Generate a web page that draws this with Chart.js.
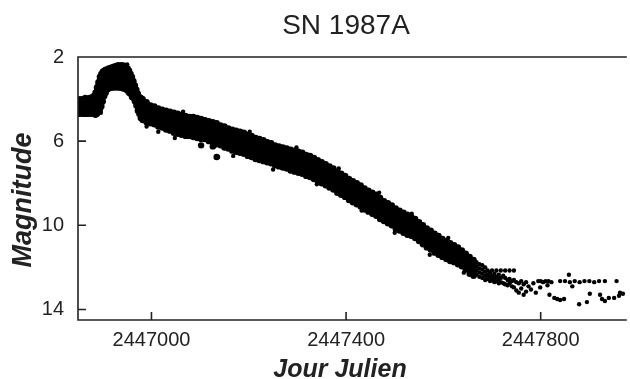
<!DOCTYPE html>
<html>
<head>
<meta charset="utf-8">
<script src="https://cdn.jsdelivr.net/npm/chart.js@4.4.1/dist/chart.umd.min.js"></script>
<style>
	body { margin: 0; background: #fff; }
	canvas { display: block; }
</style>
</head>
<body>
<canvas id="myChart" width="630" height="379"></canvas>
<script>
// Julian day = JD0 + offset
var JD0 = 2446800;

// discovery, rise to peak, fall (one column of magnitudes per day)
var earlyDays = [49, 52, 55, 58, 61, 64, 67, 70, 73, 76, 79, 82, 85, 88, 91, 94, 97, 100, 103, 106, 109, 112, 115, 118, 121, 124, 127, 130, 133, 136, 139, 142, 145, 148, 151, 154, 157, 160, 163, 166, 169, 172, 175, 178];
var earlyMags = [
	[4.0, 4.2, 4.35, 4.55, 4.7], [4.05, 4.2, 4.4, 4.6, 4.7], [4.0, 4.15, 4.3, 4.5, 4.65], [4.05, 4.25, 4.45, 4.6, 4.7],
	[4.0, 4.15, 4.35, 4.55, 4.7], [3.95, 4.1, 4.3, 4.5, 4.7], [4.05, 4.2, 4.4, 4.6, 4.7], [4.0, 4.15, 4.35, 4.55, 4.7],
	[3.95, 4.1, 4.3, 4.5, 4.65], [4.05, 4.2, 4.4, 4.6, 4.7], [3.9, 4.05, 4.25, 4.45, 4.65], [3.85, 4.0, 4.2, 4.4, 4.6, 4.7],
	[3.7, 3.85, 4.05, 4.25, 4.45, 4.65, 4.75], [3.45, 3.6, 3.8, 4.0, 4.2, 4.4, 4.6, 4.7],
	[3.2, 3.35, 3.55, 3.75, 3.95, 4.15, 4.35, 4.55], [2.95, 3.15, 3.35, 3.55, 3.75, 3.95, 4.15, 4.35, 4.5],
	[2.8, 3.0, 3.2, 3.4, 3.6, 3.8, 4.0, 4.2, 4.35], [2.7, 2.9, 3.1, 3.3, 3.5, 3.7, 3.9, 4.1],
	[2.65, 2.85, 3.05, 3.25, 3.45, 3.65, 3.85], [2.6, 2.8, 3.0, 3.2, 3.4, 3.6, 3.7],
	[2.6, 2.8, 3.0, 3.2, 3.4, 3.55], [2.55, 2.75, 2.95, 3.15, 3.35, 3.5], [2.55, 2.75, 2.95, 3.15, 3.3, 3.45],
	[2.5, 2.7, 2.9, 3.1, 3.3, 3.45], [2.5, 2.7, 2.9, 3.1, 3.25, 3.45], [2.45, 2.65, 2.85, 3.05, 3.25, 3.4],
	[2.45, 2.65, 2.85, 3.05, 3.25, 3.45], [2.4, 2.6, 2.8, 3.0, 3.2, 3.4], [2.4, 2.6, 2.8, 3.0, 3.2, 3.45],
	[2.4, 2.55, 2.75, 2.95, 3.15, 3.35, 3.45], [2.4, 2.55, 2.75, 2.95, 3.15, 3.35, 3.45], [2.4, 2.55, 2.75, 2.95, 3.15, 3.35, 3.5],
	[2.45, 2.6, 2.8, 3.0, 3.2, 3.4, 3.5], [2.5, 2.65, 2.85, 3.05, 3.25, 3.45, 3.55], [2.55, 2.7, 2.9, 3.1, 3.3, 3.5, 3.6],
	[2.65, 2.8, 3.0, 3.2, 3.4, 3.6, 3.7], [2.8, 2.95, 3.15, 3.35, 3.55, 3.75], [2.95, 3.15, 3.35, 3.55, 3.75, 3.9],
	[3.15, 3.35, 3.55, 3.75, 3.95], [3.35, 3.55, 3.75, 3.95, 4.1], [3.55, 3.75, 3.95, 4.15, 4.3],
	[3.75, 3.95, 4.15, 4.35, 4.55], [3.9, 4.1, 4.3, 4.5, 4.7], [3.95, 4.15, 4.35, 4.55, 4.75, 4.9]
];

// long decline, every 8 days
var declineDays = [182, 190, 198, 206, 214, 222, 230, 238, 246, 254, 262, 270, 278, 286, 294, 302, 310, 318, 326, 334, 342, 350, 358, 366, 374, 382, 390, 398, 406, 414, 422, 430, 438, 446, 454, 462, 470, 478, 486, 494, 502, 510, 518, 526, 534, 542, 550, 558, 566, 574, 582, 590, 598, 606, 614, 622, 630, 638, 646, 654, 662, 670, 678, 686, 694, 702, 710, 718, 726, 734, 742, 750, 758, 766, 774, 782, 790, 798, 806, 814, 822, 830, 838, 846, 854, 862];
var declineMags = [
	[4.0, 4.25, 4.5, 4.75, 5.0], [4.15, 4.4, 4.6, 4.85, 5.1], [4.3, 4.5, 4.7, 4.95, 5.15], [4.35, 4.55, 4.8, 5.0, 5.2],
	[4.45, 4.65, 4.85, 5.05, 5.3], [4.5, 4.7, 4.9, 5.1, 5.35], [4.55, 4.8, 5.0, 5.2, 5.45], [4.6, 4.85, 5.05, 5.3, 5.5],
	[4.65, 4.9, 5.1, 5.35, 5.6], [4.7, 4.95, 5.2, 5.4, 5.65], [4.75, 5.0, 5.2, 5.45, 5.7], [4.8, 5.05, 5.3, 5.5, 5.75],
	[4.85, 5.05, 5.3, 5.55, 5.75], [4.85, 5.1, 5.35, 5.6, 5.8], [4.9, 5.15, 5.4, 5.6, 5.85], [4.95, 5.2, 5.45, 5.65, 5.9, 6.2],
	[5.0, 5.25, 5.45, 5.7, 5.9], [5.05, 5.3, 5.55, 5.75, 6.0], [5.1, 5.35, 5.6, 5.8, 6.05, 6.25], [5.15, 5.4, 5.65, 5.9, 6.15, 6.75],
	[5.25, 5.5, 5.7, 5.95, 6.2], [5.3, 5.55, 5.8, 6.05, 6.3], [5.4, 5.65, 5.9, 6.1, 6.35], [5.45, 5.7, 5.95, 6.2, 6.45],
	[5.5, 5.75, 6.0, 6.25, 6.5], [5.55, 5.8, 6.05, 6.3, 6.55], [5.6, 5.85, 6.1, 6.35, 6.6], [5.7, 5.95, 6.2, 6.45, 6.7],
	[5.75, 6.0, 6.25, 6.5, 6.75], [5.85, 6.1, 6.35, 6.6, 6.85], [5.9, 6.15, 6.4, 6.65, 6.9], [5.95, 6.2, 6.45, 6.7, 6.95],
	[6.05, 6.3, 6.55, 6.75, 7.0], [6.1, 6.35, 6.6, 6.8, 7.05], [6.2, 6.45, 6.7, 6.9, 7.15], [6.25, 6.5, 6.75, 6.95, 7.2],
	[6.3, 6.55, 6.8, 7.0, 7.25], [6.35, 6.6, 6.85, 7.05, 7.3], [6.4, 6.65, 6.9, 7.15, 7.4], [6.45, 6.7, 6.95, 7.2, 7.45],
	[6.5, 6.75, 7.0, 7.25, 7.5], [6.55, 6.8, 7.05, 7.3, 7.55], [6.65, 6.9, 7.15, 7.4, 7.65], [6.7, 6.95, 7.2, 7.45, 7.7],
	[6.8, 7.05, 7.3, 7.55, 7.8], [6.9, 7.15, 7.4, 7.65, 7.9], [7.0, 7.25, 7.5, 7.75, 8.0], [7.1, 7.35, 7.6, 7.85, 8.1],
	[7.2, 7.45, 7.7, 7.95, 8.2], [7.3, 7.55, 7.8, 8.05, 8.3], [7.45, 7.7, 7.95, 8.2, 8.45], [7.55, 7.8, 8.05, 8.3, 8.55],
	[7.65, 7.9, 8.15, 8.4, 8.65], [7.8, 8.05, 8.3, 8.55, 8.8], [7.9, 8.15, 8.4, 8.65, 8.9], [8.0, 8.25, 8.5, 8.75, 9.0],
	[8.1, 8.35, 8.6, 8.85, 9.1], [8.25, 8.5, 8.75, 9.0, 9.25], [8.35, 8.6, 8.85, 9.1, 9.35], [8.45, 8.7, 8.95, 9.2, 9.45],
	[8.55, 8.8, 9.05, 9.3, 9.55], [8.7, 8.95, 9.2, 9.45, 9.7], [8.85, 9.1, 9.35, 9.55, 9.8], [8.95, 9.2, 9.45, 9.65, 9.9],
	[9.05, 9.3, 9.55, 9.75, 10.0], [9.2, 9.45, 9.7, 9.9, 10.15], [9.3, 9.55, 9.8, 10.0, 10.25], [9.4, 9.65, 9.9, 10.1, 10.35],
	[9.5, 9.75, 10.0, 10.2, 10.45], [9.6, 9.85, 10.05, 10.3, 10.5], [9.7, 9.95, 10.15, 10.4, 10.6], [9.85, 10.1, 10.3, 10.55, 10.75],
	[10.0, 10.2, 10.45, 10.65, 10.9], [10.15, 10.35, 10.6, 10.8, 11.05], [10.25, 10.5, 10.7, 10.95, 11.15], [10.4, 10.6, 10.85, 11.05, 11.3],
	[10.5, 10.75, 10.95, 11.2, 11.4], [10.65, 10.85, 11.1, 11.3, 11.5], [10.75, 10.95, 11.2, 11.4, 11.6], [10.85, 11.1, 11.3, 11.5, 11.7],
	[10.95, 11.15, 11.35, 11.55, 11.75], [11.05, 11.25, 11.45, 11.65, 11.85], [11.2, 11.4, 11.6, 11.8, 11.95], [11.35, 11.55, 11.75, 11.95, 12.1],
	[11.5, 11.7, 11.9, 12.1, 12.3], [11.65, 11.85, 12.05, 12.25, 12.4]
];

// scattered observers around the main band
var strayDays = [96, 104, 150, 160, 190, 214, 248, 265, 302, 329, 337, 368, 402, 450, 498, 540, 585, 632, 668, 700, 735, 772, 810, 842];
var strayMags = [4.65, 2.6, 2.35, 3.9, 5.3, 5.55, 5.85, 4.6, 6.2, 6.25, 6.75, 6.7, 5.55, 7.35, 6.3, 8.05, 7.3, 9.3, 8.45, 10.35, 9.45, 11.4, 10.6, 12.25];

// thinning end of the decline
var lateDays = [868, 868, 868, 868, 874, 874, 874, 874, 880, 880, 880, 880, 886, 886, 886, 886, 891, 891, 891, 896, 896, 896,
	900, 900, 900, 905, 905, 905, 909, 909, 909, 914, 914, 914, 918, 918, 918, 923, 923, 927, 927, 927, 932, 932,
	936, 936, 936, 941, 941, 945, 945, 945, 950, 950, 955, 955, 960, 960, 965, 965, 970, 970, 975, 980, 985, 990];
var lateMags = [11.75, 11.95, 12.15, 12.35, 11.85, 12.05, 12.25, 12.45, 11.9, 12.1, 12.3, 12.5, 12.0, 12.2, 12.4, 12.6, 12.15, 12.35, 12.55, 12.25, 12.45, 12.65,
	12.15, 12.4, 12.6, 12.3, 12.5, 12.7, 12.15, 12.45, 12.65, 12.35, 12.55, 12.75, 12.15, 12.5, 12.7, 12.4, 12.75, 12.15, 12.5, 12.8, 12.6, 12.85,
	12.15, 12.55, 12.75, 12.65, 12.9, 12.15, 12.6, 12.95, 12.7, 13.1, 12.75, 13.2, 12.65, 13.0, 12.8, 13.3, 12.7, 13.15, 12.9, 13.05, 12.75, 13.2];

// sparse tail
var tailDays = [995, 1000, 1005, 1010, 1016, 1022, 1040, 1050, 1058, 1060, 1070, 1080, 1090, 1100, 1110, 1120, 1132, 1156,
	999, 1014, 1018, 1028, 1034, 1040, 1048, 1065, 1079, 1095, 1101, 1122, 1126, 1132, 1140, 1151, 1161, 1163, 1169];
var tailMags = [12.65, 12.65, 12.7, 12.65, 12.65, 12.7, 12.65, 12.65, 12.35, 12.7, 12.65, 12.7, 12.65, 12.65, 12.7, 12.65, 12.65, 12.65,
	12.95, 12.85, 13.3, 13.45, 13.5, 13.55, 13.5, 12.9, 13.75, 13.65, 13.25, 13.3, 13.5, 13.6, 13.45, 13.45, 13.35, 13.2, 13.25];

var xTicks = [2447000, 2447400, 2447800];
var yTicks = [2, 6, 10, 14];

var bandPoints = [];
earlyDays.forEach((d, i) => earlyMags[i].forEach((m) => bandPoints.push({ x: JD0 + d, y: m })));
declineDays.forEach((d, i) => declineMags[i].forEach((m) => bandPoints.push({ x: JD0 + d, y: m })));
var loosePoints = [];
strayDays.forEach((d, i) => loosePoints.push({ x: JD0 + d, y: strayMags[i] }));
lateDays.forEach((d, i) => loosePoints.push({ x: JD0 + d, y: lateMags[i] }));
tailDays.forEach((d, i) => loosePoints.push({ x: JD0 + d, y: tailMags[i] }));

var ink = "#222";

var framePlugin = {
	id: "frame",
	afterDatasetsDraw(chart) {
		var ctx = chart.ctx;
		var a = chart.chartArea;
		var xs = chart.scales.x;
		var ys = chart.scales.y;
		ctx.save();
		ctx.strokeStyle = ink;
		ctx.lineWidth = 1.6;
		ctx.beginPath();
		ctx.moveTo(a.right, a.top);
		ctx.lineTo(a.left, a.top);
		ctx.lineTo(a.left, a.bottom);
		ctx.lineTo(a.right, a.bottom);
		xTicks.forEach((v) => {
			var px = xs.getPixelForValue(v);
			ctx.moveTo(px, a.bottom);
			ctx.lineTo(px, a.bottom - 8);
		});
		yTicks.forEach((v) => {
			var py = ys.getPixelForValue(v);
			ctx.moveTo(a.left, py);
			ctx.lineTo(a.left + 8, py);
		});
		ctx.stroke();

		ctx.fillStyle = ink;
		ctx.textAlign = "center";
		ctx.textBaseline = "alphabetic";
		ctx.font = "28px 'Liberation Sans', Arial, sans-serif";
		ctx.fillText("SN 1987A", 346, 34);
		ctx.font = "italic bold 25px 'Liberation Sans', Arial, sans-serif";
		ctx.fillText("Jour Julien", 340, 377);
		ctx.translate(31, 200);
		ctx.rotate(-Math.PI / 2);
		ctx.font = "italic bold 27px 'Liberation Sans', Arial, sans-serif";
		ctx.fillText("Magnitude", 0, 0);
		ctx.restore();
	},
};

var chart = new Chart(document.getElementById("myChart").getContext("2d"), {
	type: "scatter",
	data: {
		datasets: [
			{
				data: bandPoints,
				backgroundColor: "#000",
				borderWidth: 0,
				pointRadius: 3.2,
				pointHoverRadius: 3.2,
			},
			{
				data: loosePoints,
				backgroundColor: "#000",
				borderWidth: 0,
				pointRadius: 2.2,
				pointHoverRadius: 2.2,
			},
		],
	},
	options: {
		responsive: false,
		animation: false,
		devicePixelRatio: 1,
		layout: { padding: { top: 57, right: 0, left: 0, bottom: 0 } },
		plugins: { legend: { display: false }, tooltip: { enabled: false }, title: { display: false } },
		scales: {
			x: {
				type: "linear",
				min: 2446849,
				max: 2447977,
				grid: { display: false, drawTicks: false },
				border: { display: false },
				afterBuildTicks: (s) => { s.ticks = xTicks.map((v) => ({ value: v })); },
				afterFit: (s) => { s.height = 59; },
				ticks: {
					padding: 8,
					color: ink,
					maxRotation: 0,
					font: { family: "'Liberation Sans', Arial, sans-serif", size: 20 },
					callback: (v) => String(v),
				},
			},
			y: {
				type: "linear",
				reverse: true,
				min: 2,
				max: 14.5,
				grid: { display: false, drawTicks: false },
				border: { display: false },
				afterBuildTicks: (s) => { s.ticks = yTicks.map((v) => ({ value: v })); },
				afterFit: (s) => { s.width = 78; },
				ticks: {
					padding: 14,
					color: ink,
					font: { family: "'Liberation Sans', Arial, sans-serif", size: 20 },
					callback: (v) => String(v),
				},
			},
		},
	},
	plugins: [framePlugin],
});
</script>
</body>
</html>
